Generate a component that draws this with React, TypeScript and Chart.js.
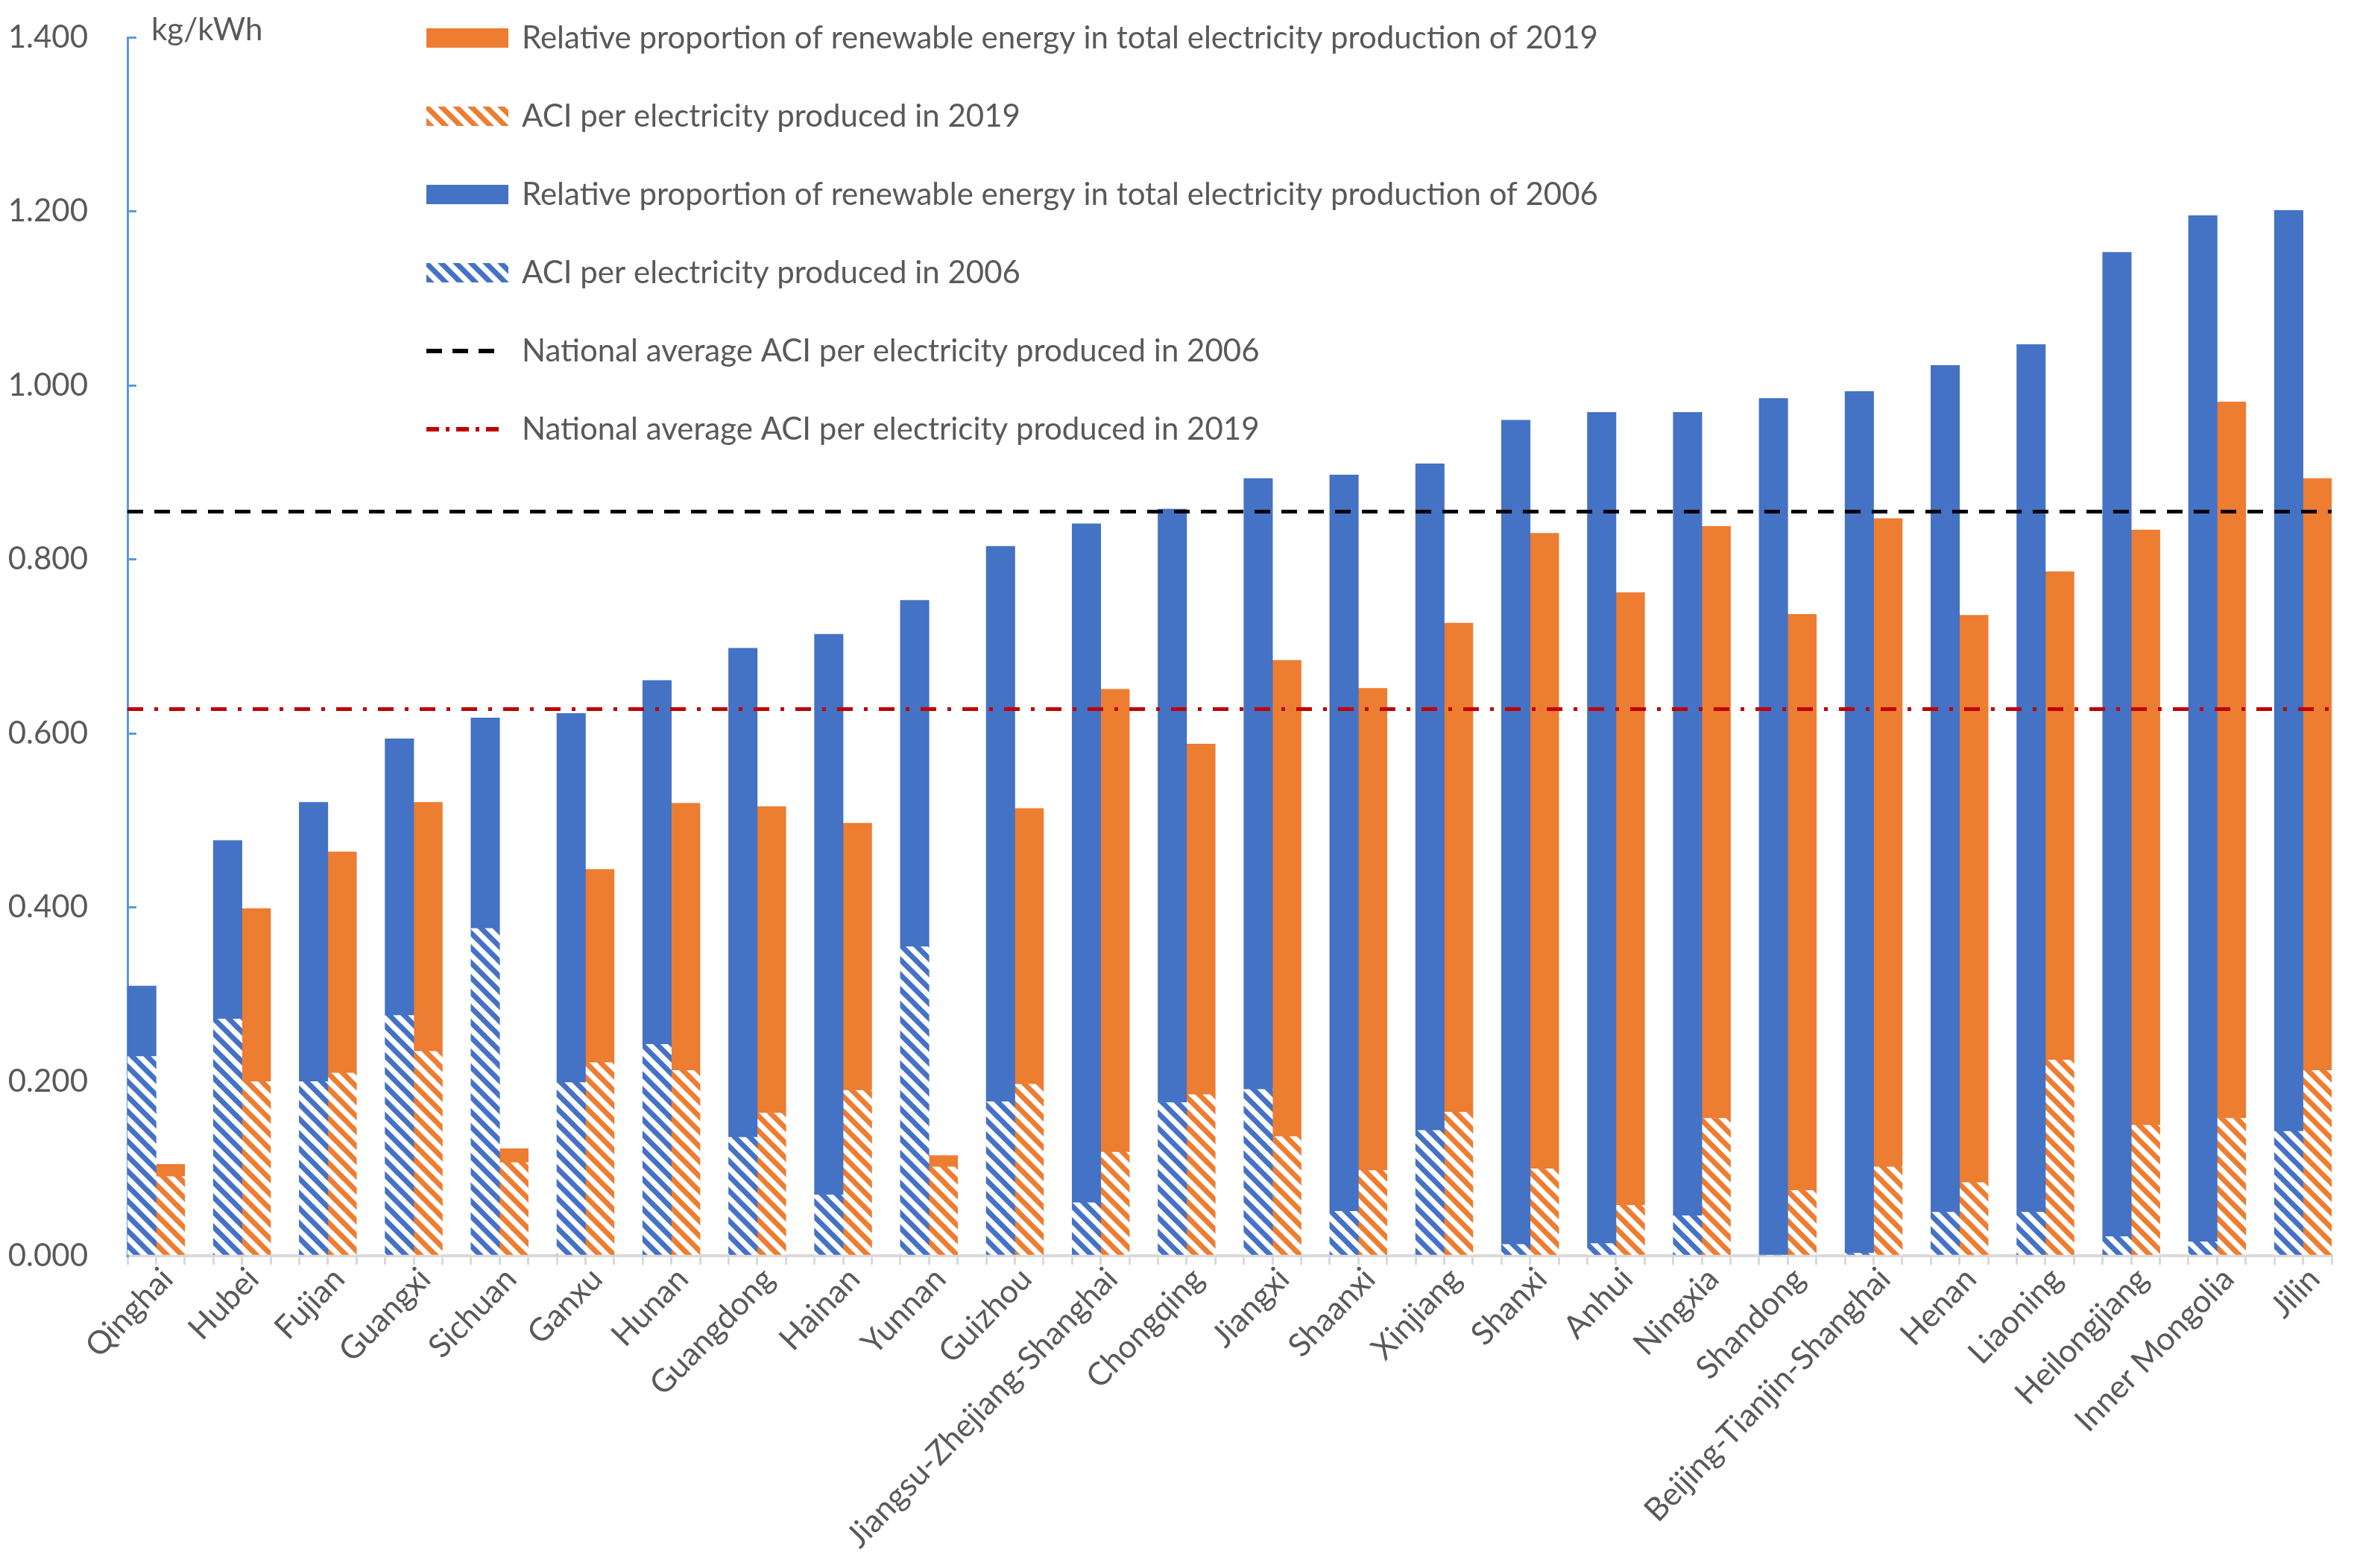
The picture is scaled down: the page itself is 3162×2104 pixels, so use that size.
import React, { useEffect, useRef } from 'react';
import { Chart, registerables } from 'chart.js';

Chart.register(...registerables);

// ---------------- data ----------------
const categories = [
  'Qinghai', 'Hubei', 'Fujian', 'Guangxi', 'Sichuan', 'Ganxu', 'Hunan', 'Guangdong', 'Hainan',
  'Yunnan', 'Guizhou', 'Jiangsu-Zhejiang-Shanghai', 'Chongqing', 'Jiangxi', 'Shaanxi', 'Xinjiang',
  'Shanxi', 'Anhui', 'Ningxia', 'Shandong', 'Beijing-Tianjin-Shanghai', 'Henan', 'Liaoning',
  'Heilongjiang', 'Inner Mongolia', 'Jilin',
];

// full bar heights (kg/kWh)
const total2006 = [
  0.310, 0.477, 0.521, 0.594, 0.618, 0.623, 0.661, 0.698, 0.714, 0.753, 0.815, 0.841, 0.858,
  0.893, 0.897, 0.910, 0.960, 0.969, 0.969, 0.985, 0.993, 1.023, 1.047, 1.153, 1.195, 1.201,
];
// hatched lower part of each bar
const aci2006 = [
  0.229, 0.272, 0.200, 0.276, 0.376, 0.199, 0.243, 0.136, 0.070, 0.355, 0.177, 0.061, 0.176,
  0.191, 0.051, 0.144, 0.013, 0.014, 0.046, 0.000, 0.003, 0.050, 0.050, 0.022, 0.016, 0.143,
];
const total2019 = [
  0.105, 0.399, 0.464, 0.521, 0.123, 0.444, 0.520, 0.516, 0.497, 0.115, 0.514, 0.651, 0.588,
  0.684, 0.652, 0.727, 0.830, 0.762, 0.838, 0.737, 0.847, 0.736, 0.786, 0.834, 0.981, 0.893,
];
const aci2019 = [
  0.091, 0.200, 0.210, 0.235, 0.107, 0.222, 0.213, 0.164, 0.190, 0.102, 0.197, 0.119, 0.185,
  0.137, 0.098, 0.165, 0.100, 0.058, 0.158, 0.075, 0.102, 0.084, 0.225, 0.150, 0.158, 0.213,
];

const national2006 = 0.855;
const national2019 = 0.628;

const yMin = 0;
const yMax = 1.4;
const yStep = 0.2;
const unitLabel = 'kg/kWh';

const legendLabels = [
  'Relative proportion of renewable energy in total electricity production of 2019',
  'ACI per electricity produced in 2019',
  'Relative proportion of renewable energy in total electricity production of 2006',
  'ACI per electricity produced in 2006',
  'National average ACI per electricity produced in 2006',
  'National average ACI per electricity produced in 2019',
];

// ---------------- styles ----------------
const BLUE = '#4472C4';
const ORANGE = '#ED7D31';
const RED = '#C00000';
const BLACK = '#000000';
const TEXT = '#595959';
const AXIS_BLUE = '#5B9BD5';
const AXIS_GRAY = '#D9D9D9';
const FONT = 'Lato';

// slot layout: each category = [2006 bar, 2019 bar, empty]; last empty slot omitted
const SLOTS_PER_CAT = 3;
const SLOT_COUNT = categories.length * SLOTS_PER_CAT - 1;

function hatchCanvas(color: string): HTMLCanvasElement {
  const c = document.createElement('canvas');
  c.width = 20;
  c.height = 20;
  const g = c.getContext('2d')!;
  g.fillStyle = '#FFFFFF';
  g.fillRect(0, 0, 20, 20);
  g.strokeStyle = color;
  g.lineWidth = 7;
  for (const k of [-20, 0, 20]) {
    g.beginPath();
    g.moveTo(k - 5, -5);
    g.lineTo(k + 25, 25);
    g.stroke();
  }
  return c;
}

function boxSwatch(fill: string | CanvasPattern): HTMLCanvasElement {
  const c = document.createElement('canvas');
  c.width = 110;
  c.height = 26;
  const g = c.getContext('2d')!;
  g.fillStyle = fill as any;
  g.fillRect(0, 0, 110, 26);
  return c;
}

function lineSwatch(color: string, dash: number[], len: number): HTMLCanvasElement {
  const c = document.createElement('canvas');
  c.width = 110;
  c.height = 26;
  const g = c.getContext('2d')!;
  g.strokeStyle = color;
  g.lineWidth = 6;
  g.setLineDash(dash);
  g.beginPath();
  g.moveTo(0, 13);
  g.lineTo(len, 13);
  g.stroke();
  return c;
}

export default function App() {
  const ref = useRef<HTMLCanvasElement>(null);

  useEffect(() => {
    const canvas = ref.current!;
    const ctx = canvas.getContext('2d')!;
    const hatchBlue = ctx.createPattern(hatchCanvas(BLUE), 'repeat')!;
    const hatchOrange = ctx.createPattern(hatchCanvas(ORANGE), 'repeat')!;

    const pos2006 = (i: number) => SLOTS_PER_CAT * i + 0.5;
    const pos2019 = (i: number) => SLOTS_PER_CAT * i + 1.5;
    const labelPos = (i: number) => SLOTS_PER_CAT * i + 1.5;

    const ptsAci2006 = aci2006.map((v, i) => ({ x: pos2006(i), y: v }));
    const ptsRest2006 = total2006.map((t, i) => ({ x: pos2006(i), y: +(t - aci2006[i]).toFixed(3) }));
    const ptsAci2019 = aci2019.map((v, i) => ({ x: pos2019(i), y: v }));
    const ptsRest2019 = total2019.map((t, i) => ({ x: pos2019(i), y: +(t - aci2019[i]).toFixed(3) }));

    const swatches = [
      boxSwatch(ORANGE),
      boxSwatch(ctx.createPattern(hatchCanvas(ORANGE), 'repeat')!),
      boxSwatch(BLUE),
      boxSwatch(ctx.createPattern(hatchCanvas(BLUE), 'repeat')!),
      lineSwatch(BLACK, [21, 14], 93),
      lineSwatch(RED, [17, 9, 5, 9], 100),
    ];
    const legendDatasetIndex = [5, 4, 3, 2, 0, 1];

    const overlay = {
      id: 'overlay',
      afterLayout(chart: any) {
        const lg = chart.legend;
        if (lg) {
          lg.left = 504;
          lg.top = -41;
        }
      },
      afterDraw(chart: any) {
        const c = chart.ctx;
        c.save();
        c.font = `42px ${FONT}`;
        c.fillStyle = TEXT;
        c.textBaseline = 'alphabetic';
        c.textAlign = 'left';
        c.fillText(unitLabel, chart.chartArea.left + 32, chart.chartArea.top + 4);
        c.restore();
      },
    };

    const chart = new Chart(canvas, {
      type: 'bar',
      data: {
        datasets: [
          {
            type: 'line',
            label: legendLabels[4],
            data: [{ x: 0, y: national2006 }, { x: SLOT_COUNT, y: national2006 }],
            xAxisID: 'x',
            yAxisID: 'y',
            stack: 'n06',
            borderColor: BLACK,
            borderWidth: 5,
            borderDash: [21, 15],
            borderCapStyle: 'butt',
            pointRadius: 0,
            fill: false,
            order: 0,
          } as any,
          {
            type: 'line',
            label: legendLabels[5],
            data: [{ x: 0, y: national2019 }, { x: SLOT_COUNT, y: national2019 }],
            xAxisID: 'x',
            yAxisID: 'y',
            stack: 'n19',
            borderColor: RED,
            borderWidth: 5,
            borderDash: [21, 15, 5, 15],
            borderCapStyle: 'butt',
            pointRadius: 0,
            fill: false,
            order: 0,
          } as any,
          {
            label: legendLabels[3],
            data: ptsAci2006,
            backgroundColor: hatchBlue,
            stack: 'bars',
            xAxisID: 'x',
            yAxisID: 'y',
            order: 1,
          },
          {
            label: legendLabels[2],
            data: ptsRest2006,
            backgroundColor: BLUE,
            stack: 'bars',
            xAxisID: 'x',
            yAxisID: 'y',
            order: 1,
          },
          {
            label: legendLabels[1],
            data: ptsAci2019,
            backgroundColor: hatchOrange,
            stack: 'bars',
            xAxisID: 'x',
            yAxisID: 'y',
            order: 1,
          },
          {
            label: legendLabels[0],
            data: ptsRest2019,
            backgroundColor: ORANGE,
            stack: 'bars',
            xAxisID: 'x',
            yAxisID: 'y',
            order: 1,
          },
        ] as any,
      },
      options: {
        animation: false,
        responsive: false,
        maintainAspectRatio: false,
        layout: { padding: { top: 42, left: 0, right: 26, bottom: 0 } },
        datasets: {
          bar: { barPercentage: 1, categoryPercentage: 1, borderWidth: 0 } as any,
        },
        plugins: {
          tooltip: { enabled: false },
          title: { display: false },
          legend: {
            display: true,
            position: 'chartArea' as any,
            align: 'start',
            labels: {
              usePointStyle: true,
              pointStyleWidth: 104,
              padding: 63,
              color: TEXT,
              font: { family: FONT, size: 42 },
              generateLabels: () =>
                legendLabels.map((text, i) => ({
                  text,
                  fillStyle: 'rgba(0,0,0,0)',
                  strokeStyle: 'rgba(0,0,0,0)',
                  lineWidth: 0,
                  pointStyle: swatches[i] as any,
                  hidden: false,
                  datasetIndex: legendDatasetIndex[i],
                  fontColor: TEXT,
                })) as any,
            },
          },
        },
        scales: {
          x: {
            type: 'linear',
            position: 'bottom',
            stacked: true,
            offset: false,
            min: 0,
            max: SLOT_COUNT,
            weight: 1,
            grid: { display: false, offset: false },
            border: { display: false },
            afterBuildTicks: (s: any) => {
              s.ticks = categories.map((_, i) => ({ value: labelPos(i) }));
            },
            ticks: {
              autoSkip: false,
              minRotation: 46,
              maxRotation: 46,
              padding: -14,
              labelOffset: -4,
              color: TEXT,
              font: { family: FONT, size: 43 },
              callback: (_v: any, i: number) => categories[i],
            },
            afterFit: (s: any) => {
              s.height = 399;
            },
          },
          xt: {
            type: 'linear',
            position: 'bottom',
            offset: false,
            min: 0,
            max: SLOT_COUNT,
            weight: 0,
            grid: {
              display: true,
              offset: false,
              drawOnChartArea: false,
              drawTicks: true,
              tickLength: 12,
              color: AXIS_GRAY,
              lineWidth: 3,
            },
            border: { display: true, color: AXIS_GRAY, width: 4 },
            ticks: { display: false, stepSize: 1 },
            afterFit: (s: any) => {
              s.height = 12;
            },
          },
          y: {
            type: 'linear',
            position: 'left',
            stacked: true,
            min: yMin,
            max: yMax,
            grid: {
              display: true,
              drawOnChartArea: false,
              drawTicks: true,
              tickLength: -12,
              color: AXIS_BLUE,
              lineWidth: 3,
            },
            border: { display: true, color: AXIS_BLUE, width: 3 },
            ticks: {
              stepSize: yStep,
              padding: 65,
              color: TEXT,
              font: { family: FONT, size: 42 },
              callback: (v: any) => Number(v).toFixed(3),
            },
            afterFit: (s: any) => {
              s.width = 163;
              s.paddingTop = 25;
              s.paddingBottom = 25;
            },
          },
        } as any,
      },
      plugins: [overlay],
    });

    return () => chart.destroy();
  }, []);

  return (
    <div style={{ width: 3146, height: 2088, overflow: 'hidden', background: '#FFFFFF' }}>
      <canvas ref={ref} width={3146} height={2088} style={{ display: 'block' }} />
    </div>
  );
}
